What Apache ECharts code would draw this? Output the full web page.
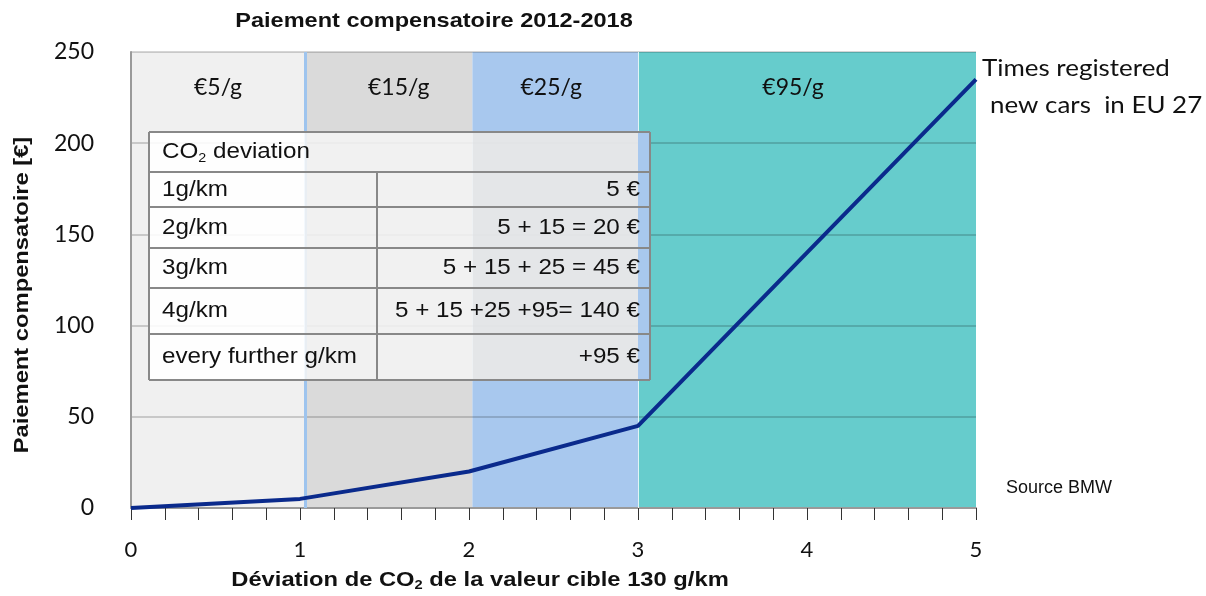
<!DOCTYPE html>
<html>
<head>
<meta charset="utf-8">
<script src="https://cdn.jsdelivr.net/npm/echarts@6/dist/echarts.min.js"></script>
<style>html,body{margin:0;padding:0;background:#fff}#main{width:1206px;height:596px}</style>
</head>
<body>
<div id="main"></div>
<script>
// données
var deviation = [0, 1, 2, 3, 4, 5];
var payment = [0, 5, 20, 45, 140, 235];
var bandEdges = [0, 1.03, 2.02, 3, 5];
var bandLabels = ['€5/g', '€15/g', '€25/g', '€95/g'];
var tableLeft = ['1g/km', '2g/km', '3g/km', '4g/km', 'every further g/km'];
var tableRight = ['5 €', '5 + 15 = 20 €', '5 + 15 + 25 = 45 €', '5 + 15 +25 +95= 140 €', '+95 €'];

var bandColors = ['#f0f0f0', '#dadada', '#a8c8ee', '#66cccc'];
var bandLabelDx = [0, 10, -4, -14];
var calibri = 'Lato, "Open Sans", sans-serif';
var arial = '"Liberation Sans", Arial, sans-serif';

var chart = echarts.init(document.getElementById('main'));

var lineData = deviation.map(function (x, i) { return [x, payment[i]]; });

var areas = [];
for (var i = 0; i < bandLabels.length; i++) {
    areas.push([{
        xAxis: bandEdges[i], yAxis: 0,
        itemStyle: {color: bandColors[i], opacity: 1},
        label: {
            show: true, position: 'insideTop', distance: 24,
            offset: [bandLabelDx[i], 0],
            formatter: bandLabels[i], color: '#111',
            fontFamily: calibri, fontSize: 23
        }
    }, {xAxis: bandEdges[i + 1], yAxis: 250}]);
}

// tableau
var rowsY = [132, 172, 207, 248, 288, 334, 380];
var tL = 149, tM = 377, tR = 650;
var tbl = [];
var fills = [[149, 305, 'rgba(255,255,255,0.88)'], [305, 473, 'rgba(244,244,244,0.88)'],
    [473, 638, 'rgba(232,232,232,0.94)'], [638, 650, '#a8c8ee']];
fills.forEach(function (f) {
    tbl.push({type: 'rect', z: 10, shape: {x: f[0], y: rowsY[0], width: f[1] - f[0], height: rowsY[6] - rowsY[0]},
        style: {fill: f[2]}});
});
for (var r = 0; r < rowsY.length; r++) {
    tbl.push({type: 'line', z: 11, shape: {x1: tL, y1: rowsY[r], x2: tR, y2: rowsY[r]},
        style: {stroke: '#888', lineWidth: 2}});
}
tbl.push({type: 'line', z: 11, shape: {x1: tL, y1: rowsY[0], x2: tL, y2: rowsY[6]}, style: {stroke: '#888', lineWidth: 2}});
tbl.push({type: 'line', z: 11, shape: {x1: tR, y1: rowsY[0], x2: tR, y2: rowsY[6]}, style: {stroke: '#888', lineWidth: 2}});
tbl.push({type: 'line', z: 11, shape: {x1: tM, y1: rowsY[1], x2: tM, y2: rowsY[6]}, style: {stroke: '#888', lineWidth: 2}});
tbl.push({type: 'text', z: 12, x: 162, y: (rowsY[0] + rowsY[1]) / 2, scaleX: 1.1,
    style: {text: 'CO{s|2} deviation', fill: '#111', font: '22px ' + arial, verticalAlign: 'middle',
        rich: {s: {fontSize: 13, fontFamily: arial, padding: [12, 0, 0, 0]}}}});
for (var k = 0; k < tableLeft.length; k++) {
    var cy = (rowsY[k + 1] + rowsY[k + 2]) / 2;
    tbl.push({type: 'text', z: 12, x: 162, y: cy, scaleX: 1.1,
        style: {text: tableLeft[k], fill: '#111', font: '22px ' + arial, verticalAlign: 'middle'}});
    tbl.push({type: 'text', z: 12, x: 640, y: cy, scaleX: 1.1,
        style: {text: tableRight[k], fill: '#111', font: '22px ' + arial, align: 'right', verticalAlign: 'middle'}});
}

var texts = [
    {type: 'text', x: 434, y: 21, scaleX: 1.12, style: {text: 'Paiement compensatoire 2012-2018', fill: '#111',
        font: 'bold 21px ' + arial, align: 'center', verticalAlign: 'middle'}},
    {type: 'text', x: 22, y: 295, rotation: Math.PI / 2, scaleX: 1.13, style: {text: 'Paiement compensatoire [€]', fill: '#111',
        font: 'bold 21px ' + arial, align: 'center', verticalAlign: 'middle'}},
    {type: 'text', x: 480, y: 580, scaleX: 1.13, style: {text: 'Déviation de CO{s|2} de la valeur cible 130 g/km', fill: '#111',
        font: 'bold 21px "Liberation Sans Narrow", ' + arial, align: 'center', verticalAlign: 'middle',
        rich: {s: {fontSize: 13, fontWeight: 'bold', fontFamily: '"Liberation Sans Narrow", ' + arial, padding: [10, 0, 0, 0]}}}},
    {type: 'text', x: 982, y: 68, scaleX: 1.08, style: {text: 'Times registered', fill: '#111',
        font: '24px ' + calibri, verticalAlign: 'middle'}},
    {type: 'text', x: 990, y: 105, scaleX: 1.08, style: {text: 'new cars  in EU 27', fill: '#111',
        font: '24px ' + calibri, verticalAlign: 'middle'}},
    {type: 'text', x: 1006, y: 488, style: {text: 'Source BMW', fill: '#111',
        font: '18px ' + arial, verticalAlign: 'middle'}}
];

var option = {
    animation: false,
    backgroundColor: '#fff',
    grid: {left: 131, right: 230, top: 52, bottom: 88},
    xAxis: {
        type: 'value', min: 0, max: 5, interval: 1, z: 2,
        axisLine: {show: true, lineStyle: {color: '#9a9a9a', width: 2}},
        axisTick: {show: true, length: 12, lineStyle: {color: '#333', width: 1}},
        minorTick: {show: true, splitNumber: 5, length: 12, lineStyle: {color: '#333', width: 1}},
        axisLabel: {margin: 31, fontFamily: calibri, fontSize: 22, color: '#111'},
        splitLine: {show: false}
    },
    yAxis: {
        type: 'value', min: 0, max: 250, interval: 50, z: 2,
        axisLine: {show: true, lineStyle: {color: '#9a9a9a', width: 2}},
        axisTick: {show: false},
        axisLabel: {margin: 37, fontFamily: calibri, fontSize: 23, color: '#111'},
        splitLine: {show: true, lineStyle: {color: 'rgba(0,0,0,0.22)', width: 1.5}}
    },
    series: [{
        // fonds par tranche
        type: 'line', z: 1, data: [], silent: true,
        markArea: {silent: true, data: areas},
        markLine: {
            silent: true, symbol: 'none', label: {show: false},
            data: [
                {xAxis: bandEdges[1], lineStyle: {color: '#9ec4ee', width: 3, type: 'solid'}},
                {xAxis: bandEdges[3], lineStyle: {color: '#ffffff', width: 1, type: 'solid', opacity: 0.8}}
            ]
        }
    }, {
        name: 'Paiement', type: 'line', z: 5, data: lineData,
        symbol: 'none', lineStyle: {color: '#0a2a8c', width: 4}
    }],
    graphic: tbl.concat(texts)
};
chart.setOption(option);
</script>
</body>
</html>
